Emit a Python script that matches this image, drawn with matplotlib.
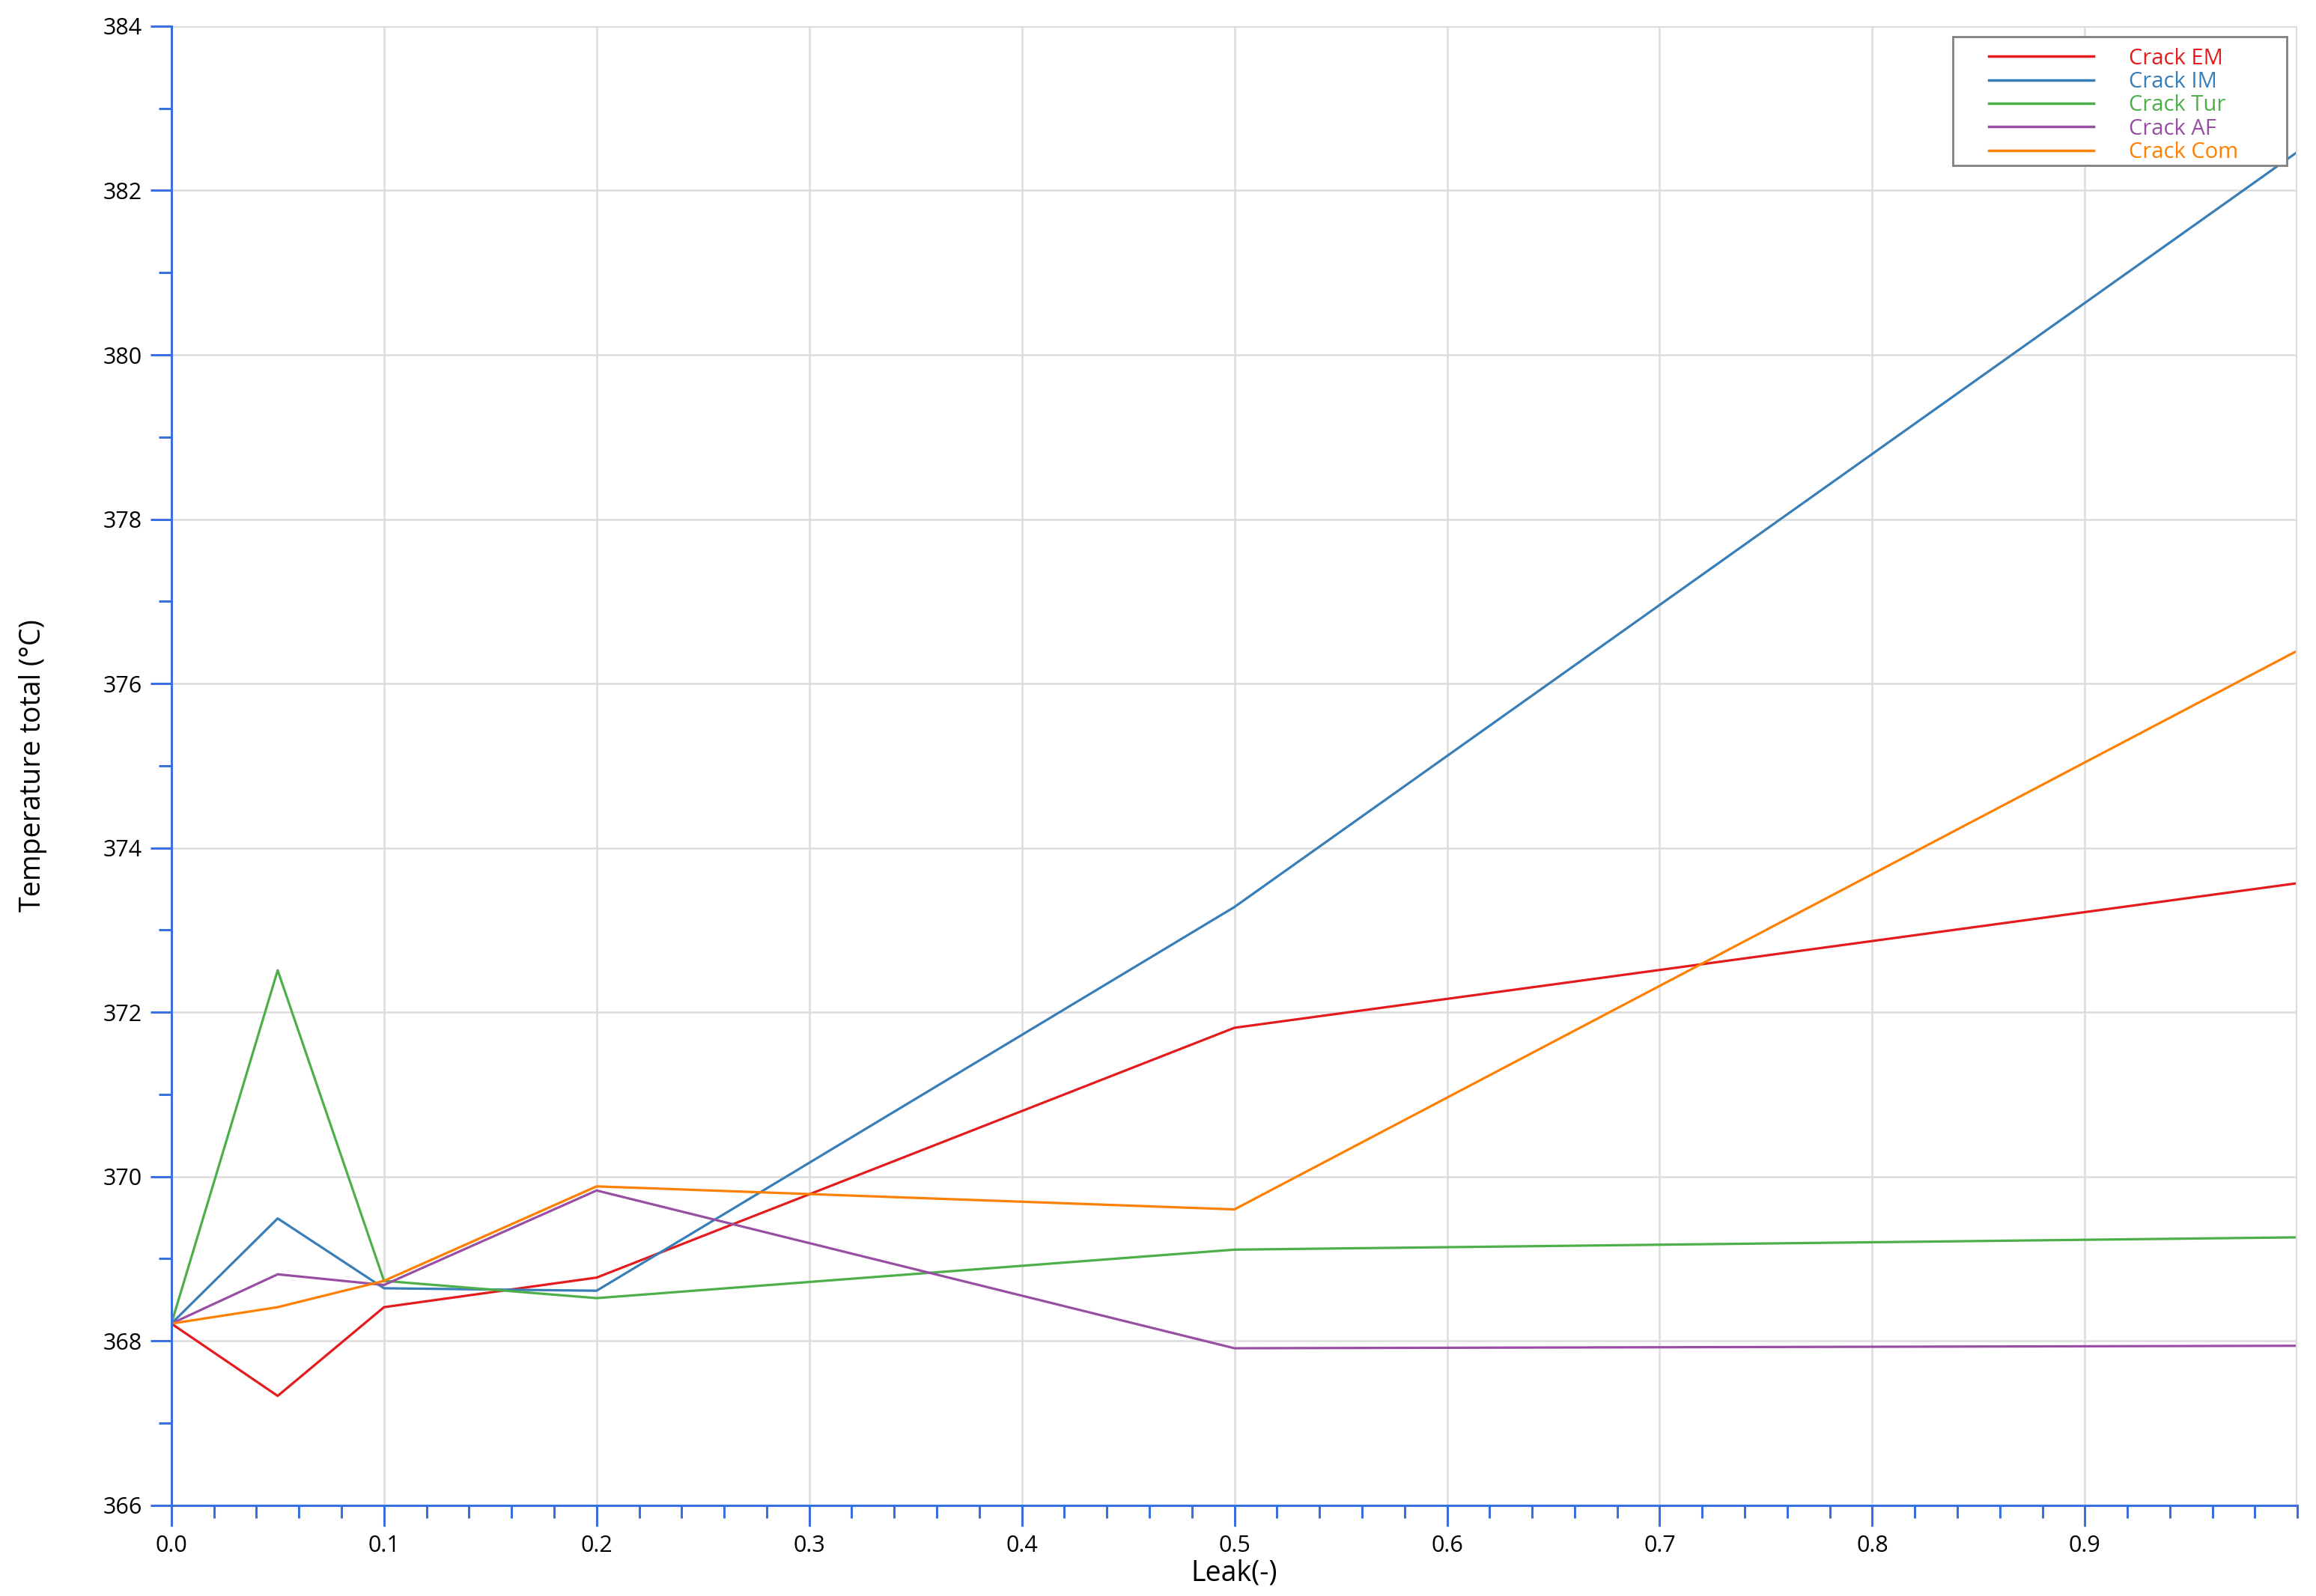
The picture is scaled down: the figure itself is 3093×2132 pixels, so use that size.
import matplotlib
matplotlib.use("Agg")
import matplotlib.pyplot as plt
from matplotlib.ticker import MultipleLocator
from matplotlib.patches import Rectangle

leak = [0.0, 0.05, 0.1, 0.2, 0.5, 1.0]
crack_em = [368.21, 367.33, 368.41, 368.77, 371.81, 373.57]
crack_im = [368.21, 369.49, 368.64, 368.61, 373.28, 382.47]
crack_tur = [368.21, 372.51, 368.73, 368.52, 369.11, 369.26]
crack_af = [368.21, 368.81, 368.68, 369.83, 367.91, 367.94]
crack_com = [368.21, 368.41, 368.73, 369.88, 369.60, 376.40]
labels = ["Crack EM", "Crack IM", "Crack Tur", "Crack AF", "Crack Com"]
colors = ["#e41a1c", "#377eb8", "#4daf4a", "#984ea3", "#ff7f00"]
xticks = [0.0, 0.1, 0.2, 0.3, 0.4, 0.5, 0.6, 0.7, 0.8, 0.9]
xticklabels = ["0.0", "0.1", "0.2", "0.3", "0.4", "0.5", "0.6", "0.7", "0.8", "0.9"]

plt.rcParams['font.family'] = ['Open Sans', 'DejaVu Sans']

fig = plt.figure(figsize=(30.93, 21.32), dpi=100)
ax = fig.add_axes([0.074, 0.0569, 0.918, 0.9267])

series = [crack_em, crack_im, crack_tur, crack_af, crack_com]
for ys, lab, c in zip(series, labels, colors):
    ax.plot(leak, ys, color=c, lw=2.3, label=lab)

ax.set_xlim(0, 1.0)
ax.set_ylim(366, 384)
ax.set_xticks(xticks)
ax.set_xticklabels(xticklabels)
ax.xaxis.set_minor_locator(MultipleLocator(0.02))
ax.yaxis.set_major_locator(MultipleLocator(2))
ax.yaxis.set_minor_locator(MultipleLocator(1))

ax.grid(True, which='major', color='#dcdcdc', lw=1.8)
ax.axvline(1.0, color='#dcdcdc', lw=3)
ax.axhline(384, color='#dcdcdc', lw=3)
ax.set_axisbelow(True)

spine_c = '#3a6fe0'
for s in ['top', 'right']:
    ax.spines[s].set_visible(False)
for s in ['left', 'bottom']:
    ax.spines[s].set_color(spine_c)
    ax.spines[s].set_linewidth(2.2)

ax.tick_params(which='major', direction='out', length=20, width=2.2, color=spine_c,
               labelsize=22, pad=8)
ax.tick_params(which='minor', direction='out', length=12, width=2.2, color=spine_c)

ax.set_xlabel("Leak(-)", fontsize=27, labelpad=2)
ax.set_ylabel("Temperature total (°C)", fontsize=27, labelpad=54)

# legend frame drawn separately to match the wide horizontal padding
frame = Rectangle((0.838, 0.906), 0.9951 - 0.838, 0.993 - 0.906, transform=ax.transAxes,
                  facecolor='white', edgecolor='#808080', lw=2, zorder=9)
ax.add_patch(frame)

leg = ax.legend(loc='upper left', bbox_to_anchor=(0.8548, 0.9855), fontsize=21,
                frameon=False, handlelength=4.8, handletextpad=1.6,
                labelspacing=0.08, borderpad=0.0, borderaxespad=0)
for txt, c in zip(leg.get_texts(), colors):
    txt.set_color(c)
for line in leg.get_lines():
    line.set_linewidth(2.5)
leg.set_zorder(10)

fig.savefig("out.png", dpi=100, facecolor='white')
